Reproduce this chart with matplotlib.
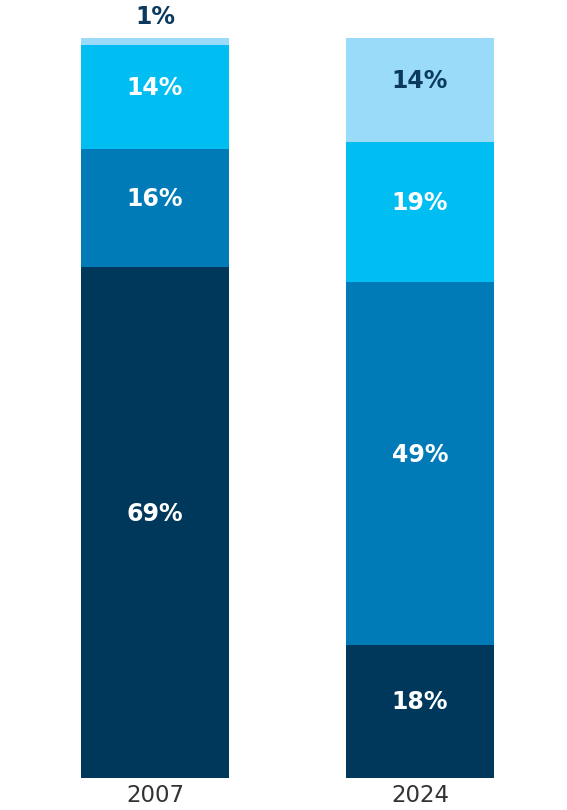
import numpy as np
import matplotlib.pyplot as plt

years = ['2007', '2024']
# segmentos de abajo hacia arriba
seg1 = [69, 18]
seg2 = [16, 49]
seg3 = [14, 19]
seg4 = [1, 14]

colores = ['#00385C', '#007BB8', '#00BDF2', '#99DBF9']
series = [seg1, seg2, seg3, seg4]

plt.rcParams['font.family'] = ['DejaVu Sans']

fig = plt.figure(figsize=(5.67, 8.1), dpi=100)
ax = fig.add_axes([0, 32/810, 1, 740/810])

x = np.arange(len(years))
ancho = 148/265
px = 100/740  # unidades de datos por pixel
base = np.zeros(len(years))
for k, (vals, c) in enumerate(zip(series, colores)):
    vals = np.array(vals, dtype=float)
    ax.bar(x, vals, ancho, bottom=base, color=c, linewidth=0)
    for i, v in enumerate(vals):
        if v < 5:
            ax.text(x[i], 100 + 21*px, f'{int(v)}%', ha='center', va='center',
                    fontsize=17, fontweight='bold', color='#0B3A5E')
        else:
            col = '#0B3A5E' if c == '#99DBF9' else 'white'
            ax.text(x[i], base[i] + v/2 + 9*px, f'{int(v)}%', ha='center', va='center',
                    fontsize=17, fontweight='bold', color=col)
    base += vals

ax.set_xlim(-155/265, -155/265 + 567/265)
ax.set_ylim(0, 100)
ax.set_xticks(x)
ax.set_xticklabels(years, fontsize=16.5, color='#333333')
ax.tick_params(axis='x', length=0, pad=4)
ax.set_yticks([])
for s in ax.spines.values():
    s.set_visible(False)

fig.savefig('out.png', dpi=100)
